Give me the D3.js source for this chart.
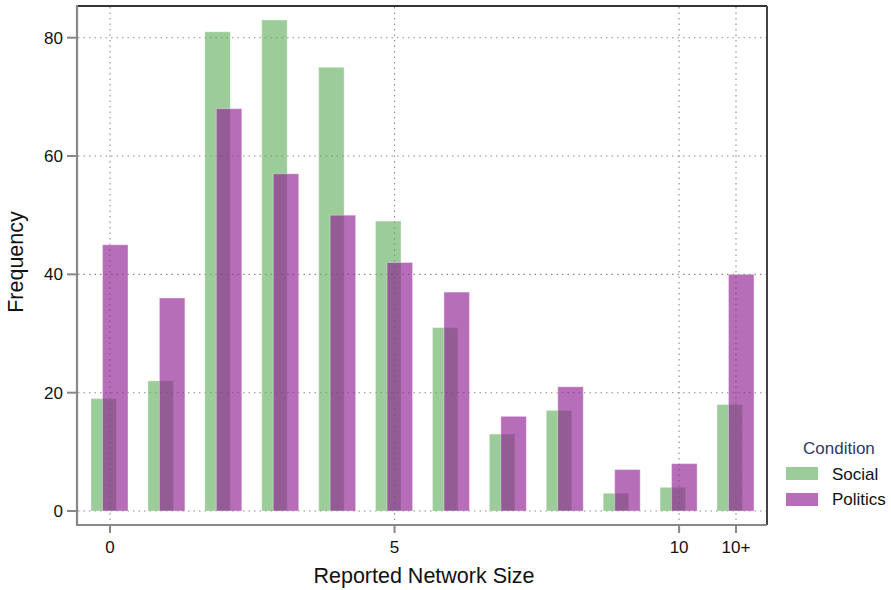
<!DOCTYPE html>
<html>
<head>
<meta charset="utf-8">
<script src="https://cdn.jsdelivr.net/npm/d3@7/dist/d3.min.js"></script>
<style>
  html, body { margin: 0; padding: 0; background: #fff; }
  svg { display: block; font-family: "Liberation Sans", Arial, Helvetica, sans-serif; }
</style>
</head>
<body>
<svg id="chart" width="891" height="590"></svg>
<script>
// Reported network size categories
const categories = ["0", "1", "2", "3", "4", "5", "6", "7", "8", "9", "10", "10+"];
// Frequency per condition
const socialValues   = [19, 22, 81, 83, 75, 49, 31, 13, 17, 3, 4, 18];
const politicsValues = [45, 36, 68, 57, 50, 42, 37, 16, 21, 7, 8, 40];
// Labelled positions on the x axis
const xTickLabels = ["0", "5", "10", "10+"];
const yTickValues = [0, 20, 40, 60, 80];
const seriesNames = ["Social", "Politics"];

const svg = d3.select("#chart");

const panel = { left: 77, right: 767, top: 6, bottom: 525 };

const x = d3.scaleLinear().domain([0, categories.length - 1]).range([110, 736]);
const y = d3.scaleLinear().domain([0, 80]).range([511, 37.7]);

const colors = { Social: "rgb(90,170,87)", Politics: "rgb(144,32,146)" };
const opac = { Social: 0.6, Politics: 0.65 };
const barW = 25.5;
const offsets = { Social: -19, Politics: -7.5 };

// Grid lines (dotted)
const grid = svg.append("g");
grid.selectAll("line.h").data(yTickValues).join("line")
  .attr("x1", panel.left + 1).attr("x2", panel.right - 1)
  .attr("y1", d => y(d)).attr("y2", d => y(d))
  .attr("stroke", "#8c8c8c").attr("stroke-width", 1.1)
  .attr("stroke-dasharray", "1.5,4");
grid.selectAll("line.v").data(xTickLabels).join("line")
  .attr("x1", d => x(categories.indexOf(d))).attr("x2", d => x(categories.indexOf(d)))
  .attr("y1", panel.top + 1).attr("y2", panel.bottom - 1)
  .attr("stroke", "#8c8c8c").attr("stroke-width", 1.1)
  .attr("stroke-dasharray", "1.5,4");

// Bars
const bars = svg.append("g");
[["Social", socialValues], ["Politics", politicsValues]].forEach(([name, vals]) => {
  bars.append("g").selectAll("rect").data(vals).join("rect")
    .attr("x", (d, i) => x(i) + offsets[name])
    .attr("y", d => y(d))
    .attr("width", barW)
    .attr("height", d => y(0) - y(d))
    .attr("fill", colors[name])
    .attr("fill-opacity", opac[name])
    .attr("stroke", "#ffffff")
    .attr("stroke-opacity", 0.35)
    .attr("stroke-width", 1);
});

// Panel border: grey axis lines on left/bottom, dark on top/right
svg.append("line").attr("x1", panel.left).attr("x2", panel.right)
  .attr("y1", panel.top).attr("y2", panel.top)
  .attr("stroke", "#333").attr("stroke-width", 2);
svg.append("line").attr("x1", panel.right).attr("x2", panel.right)
  .attr("y1", panel.top).attr("y2", panel.bottom)
  .attr("stroke", "#444").attr("stroke-width", 2);
svg.append("line").attr("x1", panel.left).attr("x2", panel.left)
  .attr("y1", panel.top - 1).attr("y2", panel.bottom + 1)
  .attr("stroke", "#888").attr("stroke-width", 2.2);
svg.append("line").attr("x1", panel.left).attr("x2", panel.right)
  .attr("y1", panel.bottom).attr("y2", panel.bottom)
  .attr("stroke", "#888").attr("stroke-width", 2.2);

// Y axis ticks and labels
const yAxis = svg.append("g");
yAxis.selectAll("line").data(yTickValues).join("line")
  .attr("x1", 67).attr("x2", panel.left - 1)
  .attr("y1", d => y(d)).attr("y2", d => y(d))
  .attr("stroke", "#888").attr("stroke-width", 2);
yAxis.selectAll("text").data(yTickValues).join("text")
  .attr("x", 63).attr("y", d => y(d)).attr("dy", "0.36em")
  .attr("text-anchor", "end").attr("font-size", 17).attr("fill", "#111")
  .text(d => d);

// X axis ticks and labels
const xAxis = svg.append("g");
xAxis.selectAll("line").data(xTickLabels).join("line")
  .attr("x1", d => x(categories.indexOf(d))).attr("x2", d => x(categories.indexOf(d)))
  .attr("y1", panel.bottom + 1).attr("y2", 533)
  .attr("stroke", "#888").attr("stroke-width", 2);
xAxis.selectAll("text").data(xTickLabels).join("text")
  .attr("x", d => x(categories.indexOf(d))).attr("y", 553)
  .attr("text-anchor", "middle").attr("font-size", 17).attr("fill", "#111")
  .text(d => d);

// Axis titles
svg.append("text").attr("x", 424).attr("y", 583)
  .attr("text-anchor", "middle").attr("font-size", 21.5).attr("fill", "#111")
  .text("Reported Network Size");
svg.append("text").attr("transform", "translate(23,262) rotate(-90)")
  .attr("text-anchor", "middle").attr("font-size", 21.5).attr("fill", "#111")
  .text("Frequency");

// Legend
const legend = svg.append("g");
legend.append("text").attr("x", 803).attr("y", 454)
  .attr("font-size", 17).attr("fill", "#2e3a66").text("Condition");
seriesNames.forEach((name, i) => {
  legend.append("rect").attr("x", 786).attr("y", 467 + i * 26)
    .attr("width", 32).attr("height", 13)
    .attr("fill", colors[name]).attr("fill-opacity", opac[name]);
  legend.append("text").attr("x", 832).attr("y", 473.5 + i * 25.5).attr("dy", "0.36em")
    .attr("font-size", 17).attr("fill", "#111").text(name);
});
</script>
</body>
</html>
